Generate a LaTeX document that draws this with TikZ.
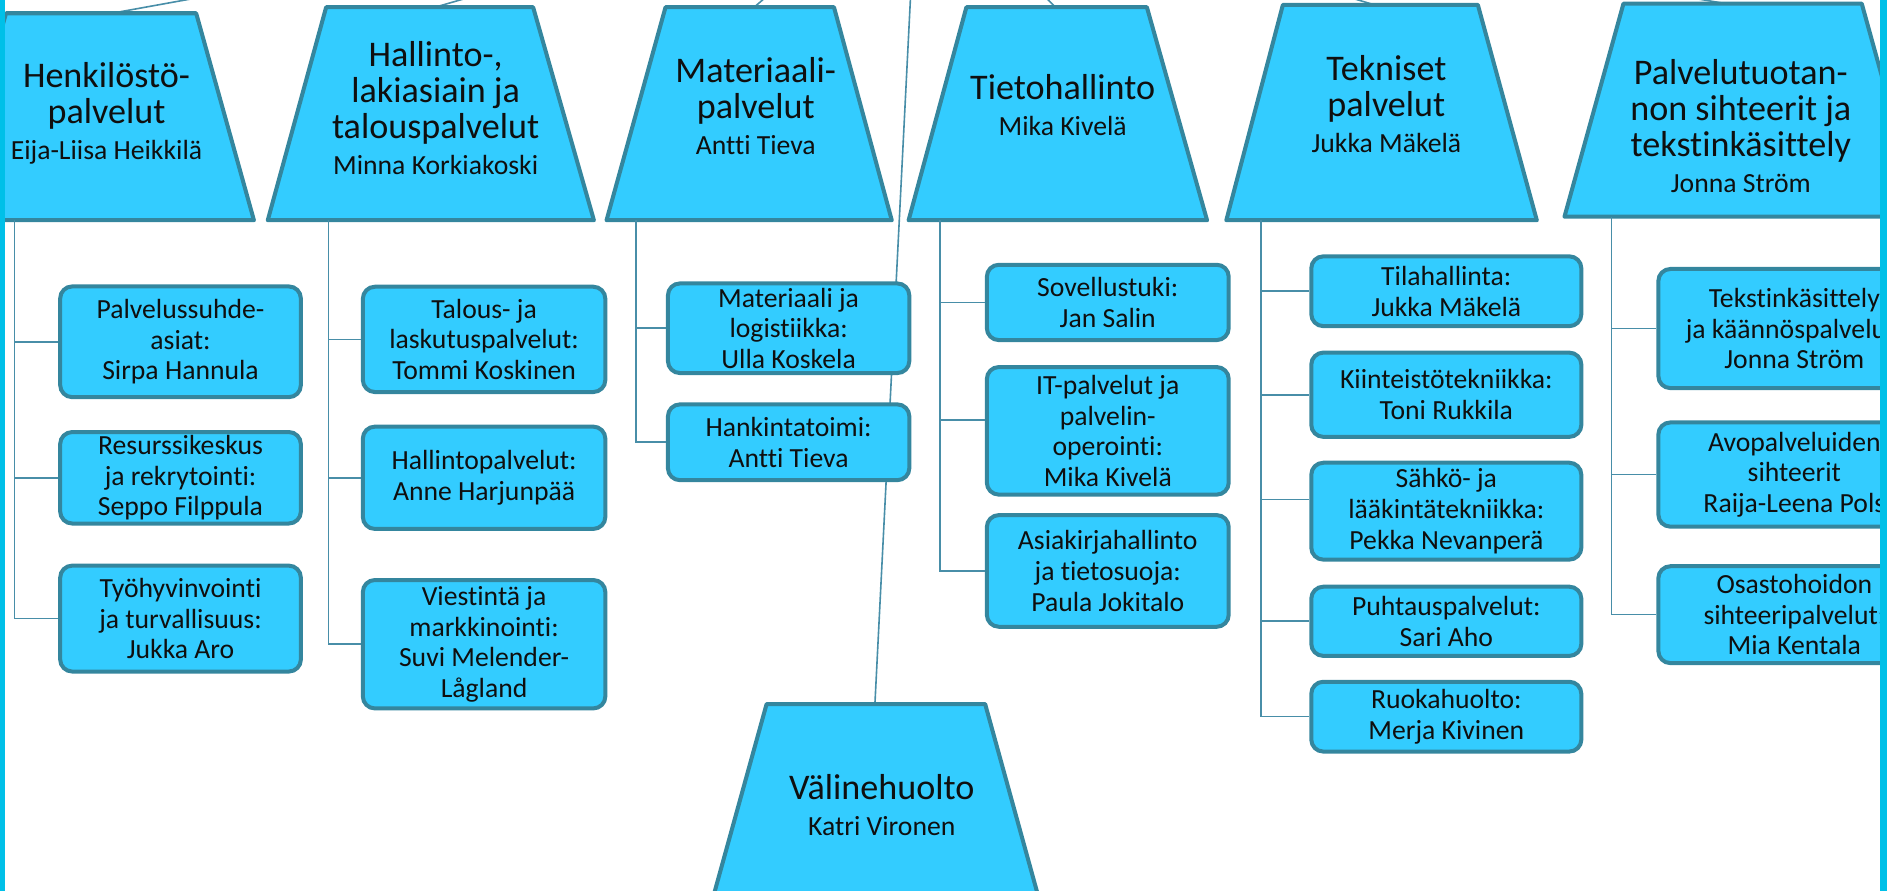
\documentclass[tikz,border=0pt]{standalone}
\usepackage{fontspec}
\setmainfont{Carlito}[Ligatures=NoCommon]
\definecolor{fillc}{RGB}{51,204,255}
\definecolor{edgec}{RGB}{52,134,158}
\definecolor{linec}{RGB}{72,142,168}
\definecolor{bandc}{RGB}{0,192,232}
\definecolor{txtc}{RGB}{15,15,15}
\newcommand\persname[1]{{\fontsize{13.8}{18}\selectfont #1}}
\begin{document}
\begin{tikzpicture}[x=0.6pt,y=-0.6pt,
  trapbox/.style={draw=edgec, fill=fillc, line width=2pt, line join=round},
  ttltext/.style={align=center, text=txtc, font=\fontsize{18}{18}\selectfont, inner sep=0pt},
  unit/.style={draw=edgec, fill=fillc, line width=2pt, rounded corners=6pt, align=center,
    text=txtc, font=\fontsize{13.8}{15.3}\selectfont, inner sep=0pt, anchor=center},
  bx/.style 2 args={minimum width={#1*0.6pt}, minimum height={#2*0.6pt}},
  conn/.style={draw=linec, line width=0.8pt},
  band/.style={fill=bandc, draw=none}]
\useasboundingbox (0,0) rectangle (1568,740);
\clip (0,0) rectangle (1568,740);

% parent (above the visible area) and connection points
\coordinate (parent) at (762,-110);
\coordinate (henT) at (93,11);
\coordinate (halT) at (361.5,6);
\coordinate (matT) at (626.6,6);
\coordinate (tieT) at (877,6);
\coordinate (tekT) at (1142,4);
\coordinate (palT) at (1434,3);
\coordinate (valT) at (727,585);
\foreach \p in {henT,halT,matT,tieT,tekT,palT,valT}
  \draw[conn] (\p) -- (parent);

% trapezoids
\draw[trapbox] (5,11) -- (163,11) -- (211,183) -- (-43,183) -- cycle;
\draw[trapbox] (271,6) -- (443,6) -- (493.5,183) -- (222.5,183) -- cycle;
\draw[trapbox] (553,6) -- (693,6) -- (741,183) -- (504,183) -- cycle;
\draw[trapbox] (803,6) -- (953,6) -- (1003,183) -- (755,183) -- cycle;
\draw[trapbox] (1066,4) -- (1228,4) -- (1277,183) -- (1019,183) -- cycle;
\draw[trapbox] (1349,3) -- (1547,3) -- (1596,180) -- (1300,180) -- cycle;
\draw[trapbox] (637,585) -- (818.6,585) -- (867.5,762) -- (588,762) -- cycle;

\node[ttltext] (hen) at (88.5,94) {Henkilöstö-\\palvelut\\\persname{Eija-Liisa Heikkilä}};
\node[ttltext] (hal) at (362,90) {Hallinto-,\\lakiasiain ja\\talouspalvelut\\\persname{Minna Korkiakoski}};
\node[ttltext] (mat) at (628,88) {Materiaali-\\palvelut\\\persname{Antti Tieva}};
\node[ttltext] (tie) at (883,87) {Tietohallinto\\\persname{Mika Kivelä}};
\node[ttltext] (tek) at (1152,86.5) {Tekniset\\palvelut\\\persname{Jukka Mäkelä}};
\node[ttltext] (pal) at (1446.5,104.5) {Palvelutuotan-\\non sihteerit ja\\tekstinkäsittely\\\persname{Jonna Ström}};
\node[ttltext] (val) at (732.7,668.7) {Välinehuolto\\\persname{Katri Vironen}};

% spine start points
\coordinate (henS) at (12,183);
\coordinate (halS) at (273,183);
\coordinate (matS) at (528.5,183);
\coordinate (tieS) at (781,183);
\coordinate (tekS) at (1048,183);
\coordinate (palS) at (1339,180);

% unit boxes
\node[unit, bx={200}{92}] (hs1) at (150,284) {Palvelussuhde-\\asiat:\\Sirpa Hannula};
\node[unit, bx={200}{76}] (hs2) at (150,397) {Resurssikeskus\\ja rekrytointi:\\Seppo Filppula};
\node[unit, bx={200}{88}] (hs3) at (150,514) {Työhyvinvointi\\ja turvallisuus:\\Jukka Aro};

\node[unit, bx={201.5}{87.5}] (ha1) at (402.25,282) {Talous- ja\\laskutuspalvelut:\\Tommi Koskinen};
\node[unit, bx={201.5}{85}] (ha2) at (402.25,397) {Hallintopalvelut:\\Anne Harjunpää};
\node[unit, bx={201.5}{106.7}] (ha3) at (402.25,535.3) {Viestintä ja\\markkinointi:\\Suvi Melender-\\Lågland};

\node[unit, bx={200.6}{74.5}] (ma1) at (655.3,272.75) {Materiaali ja\\logistiikka:\\Ulla Koskela};
\node[unit, bx={200.6}{63}] (ma2) at (655.3,367.5) {Hankintatoimi:\\Antti Tieva};

\node[unit, bx={201}{62.6}] (ti1) at (920.5,251.3) {Sovellustuki:\\Jan Salin};
\node[unit, bx={201}{106}] (ti2) at (920.5,358) {IT-palvelut ja\\palvelin-\\operointi:\\Mika Kivelä};
\node[unit, bx={201}{92.8}] (ti3) at (920.5,474.4) {Asiakirjahallinto\\ja tietosuoja:\\Paula Jokitalo};

\node[unit, bx={224.4}{58}] (te1) at (1201.8,242) {Tilahallinta:\\Jukka Mäkelä};
\node[unit, bx={224.4}{70}] (te2) at (1201.8,328) {Kiinteistötekniikka:\\Toni Rukkila};
\node[unit, bx={224.4}{80.5}] (te3) at (1201.8,424.75) {Sähkö- ja\\lääkintätekniikka:\\Pekka Nevanperä};
\node[unit, bx={224.4}{57.5}] (te4) at (1201.8,516.25) {Puhtauspalvelut:\\Sari Aho};
\node[unit, bx={224.4}{58}] (te5) at (1201.8,595.5) {Ruokahuolto:\\Merja Kivinen};

\node[unit, bx={226}{99}] (pa1) at (1491,273) {Tekstinkäsittely\\ja käännöspalvelut:\\Jonna Ström};
\node[unit, bx={226}{86.6}] (pa2) at (1491,394.3) {Avopalveluiden\\sihteerit\\Raija-Leena Pols};
\node[unit, bx={226}{80.5}] (pa3) at (1491,510.75) {Osastohoidon\\sihteeripalvelut:\\Mia Kentala};

% connectors from spines to units
\foreach \b in {hs1,hs2,hs3} \draw[conn] (henS) |- (\b.west);
\foreach \b in {ha1,ha2,ha3} \draw[conn] (halS) |- (\b.west);
\foreach \b in {ma1,ma2} \draw[conn] (matS) |- (\b.west);
\foreach \b in {ti1,ti3} \draw[conn] (tieS) |- (\b.west);
\draw[conn] (tieS) |- ([yshift=5.4pt]ti2.west);
\foreach \b in {te1,te2,te4,te5} \draw[conn] (tekS) |- (\b.west);
\draw[conn] (tekS) |- ([yshift=5.8pt]te3.west);
\foreach \b in {pa1,pa2,pa3} \draw[conn] (palS) |- (\b.west);

% side bands
\fill[band] (0,0) rectangle (4,740);
\fill[band] (1562,0) rectangle (1568,740);
\end{tikzpicture}
\end{document}
